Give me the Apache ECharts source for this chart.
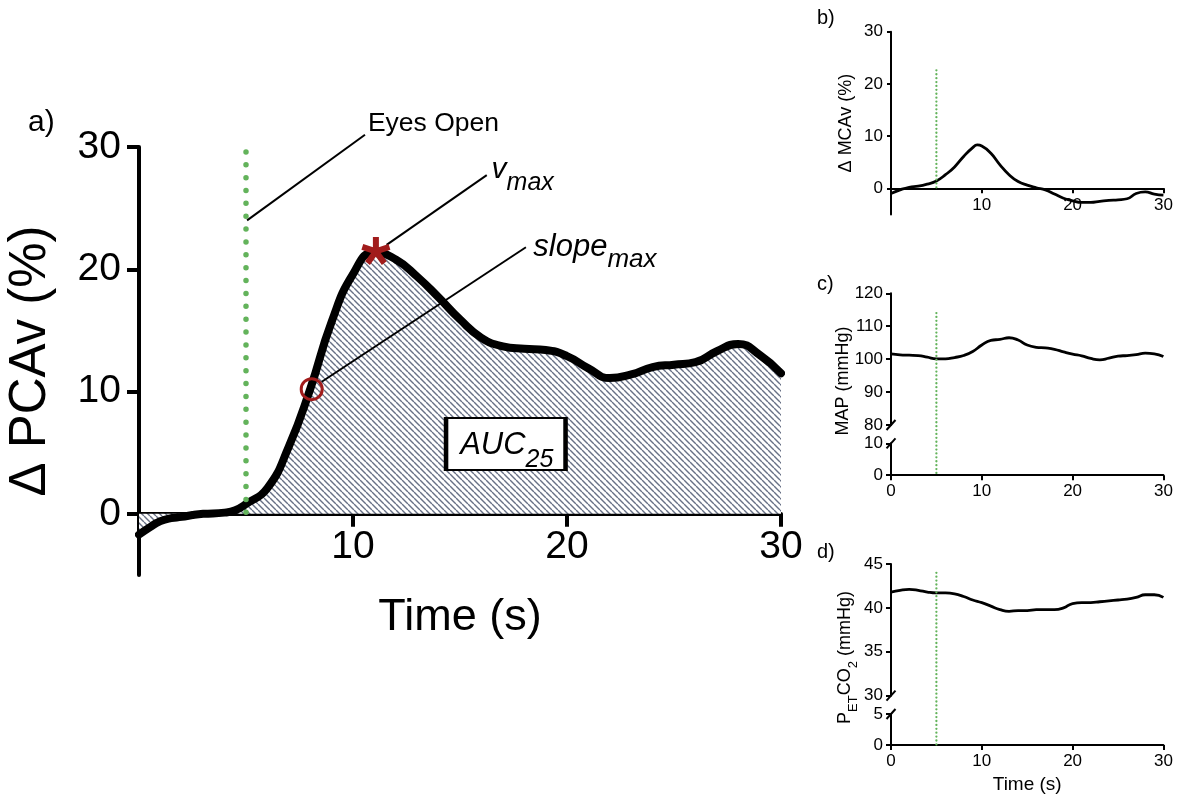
<!DOCTYPE html>
<html><head><meta charset="utf-8">
<script src="https://cdn.jsdelivr.net/npm/echarts@6/dist/echarts.min.js"></script>
<style>html,body{margin:0;padding:0;background:#fff}#c{width:1182px;height:803px}</style>
</head><body><div id="c"></div>
<script>
const FONT = '"Liberation Sans", Arial, Helvetica, sans-serif';
const GREEN = '#63b35b';
const RED = '#a11c1c';

// ---- data ----
const pcavTime   = [0,0.5,1,1.5,2,2.5,3,4,4.5,5,6,7,8,9,10,11,12,13,14,15,16,17,18,19,20,21,22,23,24,25,26,27,28,29,30];
const pcavValues = [-1.7,-1.1,-0.6,-0.35,-0.25,-0.1,0.0,0.1,0.3,0.8,2.1,5.5,10.2,15.7,19.6,21.4,20.8,19.4,17.7,15.9,14.4,13.7,13.5,13.4,12.9,11.9,11.1,11.4,12.0,12.2,12.4,13.3,13.9,13.0,11.5];
const mcavTime   = [0,1,2,3,4,5,6,7,8,9,9.5,10,11,12,13,14,15,16,17,18,19,20,21,22,23,24,25,26,27,28,29,30];
const mcavValues = [-1.0,-0.3,0.2,0.4,0.8,1.4,2.6,4.1,6.1,7.8,8.3,8.1,6.7,4.5,2.6,1.3,0.6,0.1,-0.3,-1.1,-1.9,-2.4,-2.7,-2.7,-2.5,-2.3,-2.2,-2.0,-1.0,-0.7,-1.1,-1.3];
const secTime    = [0,1,2,3,4,5,6,7,8,9,10,11,12,13,14,15,16,17,18,19,20,21,22,23,24,25,26,27,28,29,30];
const mapValues  = [101.6,101.3,101.2,101.1,100.6,100.1,100.1,100.5,101.1,102.3,104.3,105.7,106.0,106.5,105.8,104.3,103.6,103.4,103.0,102.2,101.5,101.0,100.2,99.8,100.3,100.9,101.1,101.4,101.8,101.6,100.8];
const petco2Values = [41.8,42.0,42.1,42.0,41.8,41.7,41.7,41.6,41.3,40.9,40.6,40.2,39.8,39.6,39.7,39.7,39.8,39.8,39.8,40.0,40.5,40.6,40.6,40.7,40.8,40.9,41.0,41.2,41.5,41.5,41.2];

const eyesOpenTime = 5;
const markerTop = {a: 29.6, b: 22.6, c: 114, d: 44};
const vmaxPoint = [11.07, 21.5];
const slopeMaxPoint = [8.07, 10.2];

const yTicksA = [0, 10, 20, 30];
const yTicksB = [0, 10, 20, 30];

// annotation anchors (data coordinates of panel a)
const eyesLine  = [[5.05, 24.0], [10.56, 31.0]];
const vmaxLine  = [[11.57, 22.0], [16.25, 27.7]];
const slopeLine = [[8.54, 10.8], [18.08, 21.8]];
const eyesText  = [10.72, 31.86];
const vmaxText  = [16.5, 28.12];
const slopeText = [18.45, 21.74];
const aucBox    = [17.14, 5.72];

const zip = (xs, ys) => xs.map((x, i) => [x, ys[i]]);

function hatch() {
  const s = 6, c = document.createElement('canvas');
  c.width = s; c.height = s;
  const g = c.getContext('2d');
  g.fillStyle = '#fff'; g.fillRect(0, 0, s, s);
  g.strokeStyle = '#687186'; g.lineWidth = 1.4;
  g.beginPath();
  for (const k of [-6, 0, 6]) { g.moveTo(k, 0); g.lineTo(k + s, s); }
  g.stroke();
  return c;
}
function asteriskPath() {
  const r = 50, w = 21, c = 50; let d = '';
  for (let i = 0; i < 5; i++) {
    const t = i * 72 * Math.PI / 180, dx = Math.sin(t), dy = -Math.cos(t), px = Math.cos(t), py = Math.sin(t);
    const pts = [[c + px*w/2, c + py*w/2], [c + px*w/2 + dx*r, c + py*w/2 + dy*r], [c - px*w/2 + dx*r, c - py*w/2 + dy*r], [c - px*w/2, c - py*w/2]];
    d += 'M' + pts.map(p => p[0].toFixed(2) + ' ' + p[1].toFixed(2)).join('L') + 'Z';
  }
  return 'path://' + d;
}

const chart = echarts.init(document.getElementById('c'), null, {renderer: 'canvas'});

const GA = {left: 139, top: 147, width: 642, height: 428};
const GB = {left: 891, top: 31.7, width: 272.4, height: 182.7};
function gridOf(o) { return Object.assign({outerBoundsMode: 'none', containLabel: false}, o); }
function xAx(gi, o) {
  return Object.assign({
    type: 'value', gridIndex: gi, min: 0, max: 30, interval: 10,
    axisLine: {onZero: false, lineStyle: {color: '#000', width: 2}},
    axisTick: {length: 5, lineStyle: {color: '#000', width: 2}},
    axisLabel: {color: '#000', fontSize: 17, fontFamily: FONT, margin: 8},
    splitLine: {show: false}
  }, o);
}
function yAx(gi, o) {
  return Object.assign({
    type: 'value', gridIndex: gi,
    axisLine: {show: true, onZero: false, lineStyle: {color: '#000', width: 2}},
    axisTick: {show: true, length: 5, lineStyle: {color: '#000', width: 2}},
    axisLabel: {color: '#000', fontSize: 17, fontFamily: FONT, margin: 8},
    splitLine: {show: false}
  }, o);
}
function lineSeries(xi, yi, data, o) {
  return Object.assign({type: 'line', xAxisIndex: xi, yAxisIndex: yi, data, symbol: 'none', silent: true,
    lineStyle: {color: '#000', width: 2.5}, smooth: 0.5}, o);
}
function textPoint(pt, labelOpt) {
  return {
    type: 'scatter', xAxisIndex: 0, yAxisIndex: 0, data: [pt], symbolSize: 1, clip: false, silent: true,
    itemStyle: {color: 'rgba(0,0,0,0)', opacity: 1}, z: 8,
    label: Object.assign({show: true, position: [0, 0], align: 'left', verticalAlign: 'middle', color: '#000', fontFamily: FONT, opacity: 1}, labelOpt)
  };
}
const subRich = (mainSize, subSize, pad) => ({
  m: {fontSize: mainSize, fontStyle: 'italic', fontFamily: FONT, color: '#000', lineHeight: mainSize, verticalAlign: 'top'},
  s: {fontSize: subSize, fontStyle: 'italic', fontFamily: FONT, color: '#000', lineHeight: subSize, padding: [pad, 0, 0, 0], verticalAlign: 'top'}
});

// x axes of panels a and b sit at y = 0, which is 5/35 of the grid height above the grid bottom
const offA = -GA.height * 5 / 35;
const offB = -GB.height * 5 / 35;

const option = {
  animation: false,
  backgroundColor: '#fff',
  textStyle: {fontFamily: FONT, color: '#000'},
  grid: [
    gridOf(GA), gridOf(GB),
    gridOf({left: 891, top: 293.3, width: 272.4, height: 131.7}),
    gridOf({left: 891, top: 443.3, width: 272.4, height: 31.9}),
    gridOf({left: 891, top: 564, width: 272.4, height: 131.7}),
    gridOf({left: 891, top: 714, width: 272.4, height: 31})
  ],
  xAxis: [
    xAx(0, {offset: offA, axisLine: {onZero: false, lineStyle: {color: '#000', width: 4}}, axisTick: {length: 13, lineStyle: {color: '#000', width: 4}},
      axisLabel: {color: '#000', fontSize: 39, fontFamily: FONT, margin: 14, showMinLabel: false},
      name: 'Time (s)', nameLocation: 'middle', nameGap: 81, nameTextStyle: {fontSize: 45, fontFamily: FONT, color: '#000'}}),
    xAx(1, {offset: offB, axisLabel: {color: '#000', fontSize: 17, fontFamily: FONT, margin: 9, showMinLabel: false}}),
    xAx(2, {show: false}),
    xAx(3, {}),
    xAx(4, {show: false}),
    xAx(5, {name: 'Time (s)', nameLocation: 'middle', nameGap: 30, nameTextStyle: {fontSize: 19, fontFamily: FONT, color: '#000'}})
  ],
  yAxis: [
    yAx(0, {min: -5, max: 30,
      axisLine: {show: true, onZero: false, lineStyle: {color: '#000', width: 4}},
      axisTick: {show: true, length: 12, customValues: yTicksA, lineStyle: {color: '#000', width: 4}},
      axisLabel: {color: '#000', fontSize: 39, fontFamily: FONT, margin: 18, customValues: yTicksA},
      name: 'Δ PCAv (%)', nameLocation: 'middle', nameGap: 83, nameRotate: 90, nameTextStyle: {fontSize: 51, fontFamily: FONT, color: '#000'}}),
    yAx(1, {min: -5, max: 30,
      axisTick: {show: true, length: 4, customValues: yTicksB, lineStyle: {color: '#000', width: 2}},
      axisLabel: {color: '#000', fontSize: 17, fontFamily: FONT, margin: 8, customValues: yTicksB},
      name: 'Δ MCAv (%)', nameLocation: 'middle', nameGap: 36, nameRotate: 90, nameTextStyle: {fontSize: 18, fontFamily: FONT, color: '#000'}}),
    yAx(2, {min: 80, max: 120, interval: 10}),
    yAx(3, {min: 0, max: 10, interval: 10}),
    yAx(4, {min: 30, max: 45, interval: 5}),
    yAx(5, {min: 0, max: 5, interval: 5})
  ],
  series: [
    lineSeries(0, 0, zip(pcavTime, pcavValues), {
      lineStyle: {color: '#000', width: 8, join: 'round', cap: 'round'},
      areaStyle: {color: {image: hatch(), repeat: 'repeat'}, opacity: 1, origin: 0}, z: 3}),
    lineSeries(0, 0, [[eyesOpenTime, markerTop.a], [eyesOpenTime, 0]], {smooth: false, z: 4,
      lineStyle: {color: GREEN, width: 5.5, type: [0, 12.87], cap: 'round'}}),
    lineSeries(0, 0, eyesLine, {smooth: false, clip: false, z: 5, lineStyle: {color: '#000', width: 2}}),
    lineSeries(0, 0, vmaxLine, {smooth: false, clip: false, z: 5, lineStyle: {color: '#000', width: 2}}),
    lineSeries(0, 0, slopeLine, {smooth: false, clip: false, z: 5, lineStyle: {color: '#000', width: 2}}),
    {type: 'scatter', xAxisIndex: 0, yAxisIndex: 0, data: [slopeMaxPoint], symbol: 'circle', symbolSize: 21, silent: true, z: 6,
      itemStyle: {color: 'rgba(255,255,255,0)', borderColor: RED, borderWidth: 3, opacity: 1}},
    {type: 'scatter', xAxisIndex: 0, yAxisIndex: 0, data: [vmaxPoint], symbol: asteriskPath(), symbolSize: [29, 28], silent: true, z: 6,
      itemStyle: {color: RED, opacity: 1}},
    {type: 'scatter', xAxisIndex: 0, yAxisIndex: 0, data: [aucBox], symbol: 'rect', symbolSize: [119.5, 52], silent: true, z: 7,
      itemStyle: {color: '#fff', borderColor: '#000', borderWidth: 3, opacity: 1},
      label: {show: true, position: 'inside', align: 'center', verticalAlign: 'middle', offset: [1, 1.3], opacity: 1,
        formatter: '{m|AUC}{s|25}', rich: subRich(31, 25, 18)}},
    textPoint(eyesText, {formatter: 'Eyes Open', fontSize: 26.5}),
    textPoint(vmaxText, {formatter: '{m|v}{s|max}', rich: subRich(30, 25, 16)}),
    textPoint(slopeText, {formatter: '{m|slope}{s|max}', rich: subRich(31, 26, 15)}),
    // panel b
    lineSeries(1, 1, zip(mcavTime, mcavValues), {lineStyle: {color: '#000', width: 2.8}}),
    lineSeries(1, 1, [[eyesOpenTime, markerTop.b], [eyesOpenTime, 0]], {smooth: false, z: 4,
      lineStyle: {color: GREEN, width: 2.3, type: [0, 3.9], cap: 'round'}}),
    // panel c
    lineSeries(2, 2, zip(secTime, mapValues), {lineStyle: {color: '#000', width: 2.8}}),
    // panel d
    lineSeries(4, 4, zip(secTime, petco2Values), {lineStyle: {color: '#000', width: 2.8}})
  ]
};
chart.setOption(option);

// elements placed through the library's own coordinate conversion
const P = (i, pt) => chart.convertToPixel({xAxisIndex: i, yAxisIndex: i}, pt);
const g = [];
function slash(p) {
  g.push({type: 'line', z: 10, silent: true, shape: {x1: p[0] - 4.5, y1: p[1] + 5, x2: p[0] + 4.5, y2: p[1] - 5}, style: {stroke: '#000', lineWidth: 2}});
}
slash(P(2, [0, 80])); slash(P(3, [0, 10])); slash(P(4, [0, 30])); slash(P(5, [0, 5]));
function marker(lowPt, upPt) {
  g.push({type: 'line', z: 5, silent: true, shape: {x1: upPt[0], y1: upPt[1], x2: lowPt[0], y2: lowPt[1]},
    style: {stroke: GREEN, lineWidth: 2.3, lineDash: [0, 3.9], lineCap: 'round'}});
}
marker(P(3, [eyesOpenTime, 0]), P(2, [eyesOpenTime, markerTop.c]));
marker(P(5, [eyesOpenTime, 0]), P(4, [eyesOpenTime, markerTop.d]));
function txt(x, y, text, size, extra) {
  g.push(Object.assign({type: 'text', x, y, silent: true, z: 10,
    style: Object.assign({text, fill: '#000', fontSize: size, fontFamily: FONT, align: 'left', verticalAlign: 'middle'}, (extra && extra.style) || {})},
    extra ? {rotation: extra.rotation || 0} : {}));
}
txt(28, 122.6, 'a)', 30);
txt(817, 18, 'b)', 20);
txt(817, 284, 'c)', 20);
txt(817, 552, 'd)', 20);
txt(843, 381, 'MAP (mmHg)', 18, {rotation: Math.PI / 2, style: {align: 'center'}});
txt(845.5, 657.5, '{m|P}{s|ET}{m|CO}{s|2}{m| (mmHg)}', 18, {rotation: Math.PI / 2, style: {align: 'center',
  rich: {m: {fontSize: 18, fontFamily: FONT, fill: '#000', lineHeight: 18, verticalAlign: 'top'},
         s: {fontSize: 13, fontFamily: FONT, fill: '#000', lineHeight: 13, padding: [10, 0, 0, 0], verticalAlign: 'top'}}}});
chart.setOption({graphic: g});
</script>
</body></html>
